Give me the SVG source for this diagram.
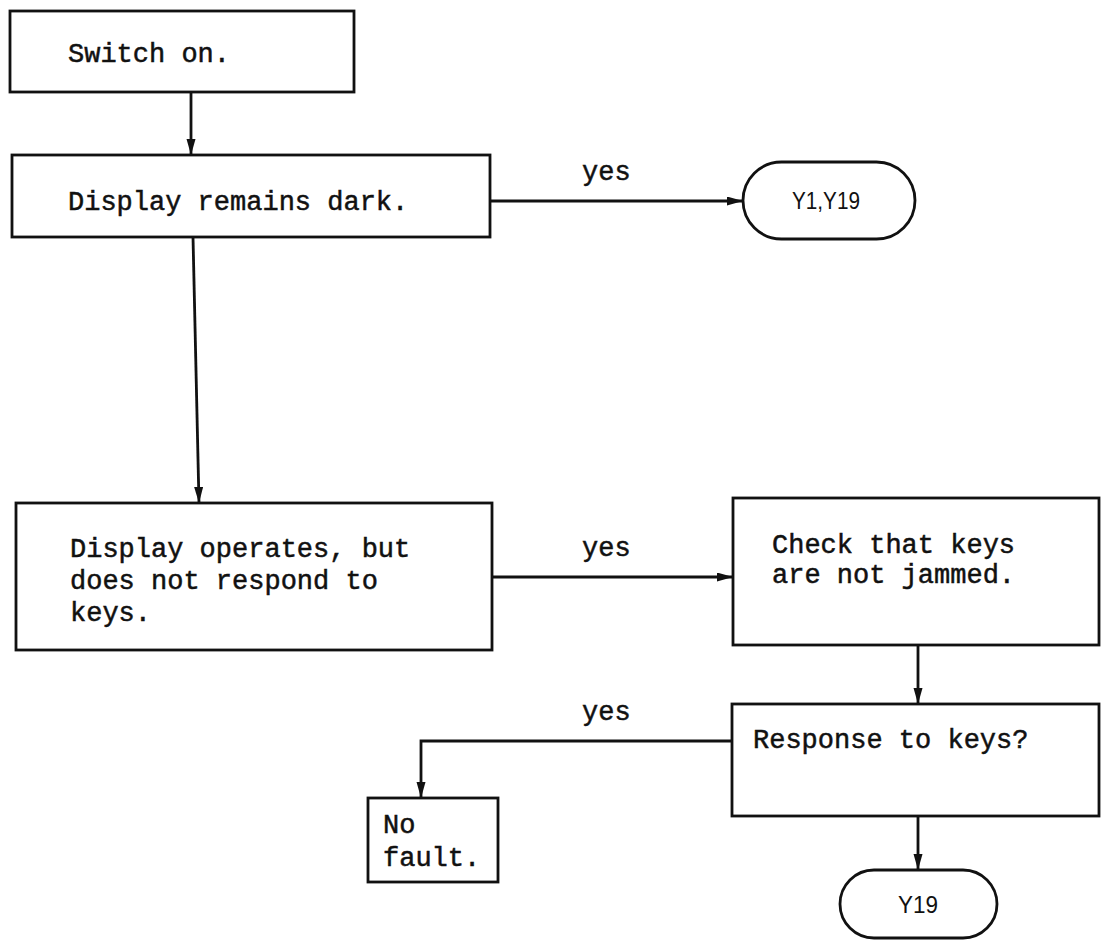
<svg xmlns="http://www.w3.org/2000/svg" width="1102" height="941" viewBox="0 0 1102 941">
<style>
.box{fill:#fff;stroke:#111;stroke-width:2.8}
.t{font-family:"Liberation Mono","DejaVu Sans Mono",monospace;font-size:27px;fill:#111;stroke:#111;stroke-width:0.5}
.term{font-family:"Liberation Sans","DejaVu Sans",sans-serif;font-size:23px;fill:#111}
.c{fill:none;stroke:#111;stroke-width:2.8}
</style>
<defs>
<marker id="ah" markerUnits="userSpaceOnUse" markerWidth="18" markerHeight="12" refX="16" refY="4.5" orient="auto">
<path d="M0,0 L16,4.5 L0,9 Z" fill="#111"/>
</marker>
</defs>
<rect width="1102" height="941" fill="#fff"/>
<g id="connectors">
<line class="c" x1="191" y1="92" x2="191" y2="155" marker-end="url(#ah)"/>
<line class="c" x1="490" y1="201" x2="743" y2="201" marker-end="url(#ah)"/>
<text class="t" x="582" y="180">yes</text>
<line class="c" x1="193" y1="237" x2="199" y2="503" marker-end="url(#ah)"/>
<line class="c" x1="492" y1="577" x2="733" y2="577" marker-end="url(#ah)"/>
<text class="t" x="582" y="556">yes</text>
<line class="c" x1="918" y1="645" x2="918" y2="704" marker-end="url(#ah)"/>
<polyline class="c" points="732,741 421,741 421,798" marker-end="url(#ah)"/>
<text class="t" x="582" y="720">yes</text>
<line class="c" x1="918" y1="816" x2="918" y2="870" marker-end="url(#ah)"/>
</g>
<g id="n1">
<rect class="box" x="10" y="11" width="344" height="81"/>
<text class="t" x="68" y="62">Switch on.</text>
</g>
<g id="n2">
<rect class="box" x="12" y="155" width="478" height="82"/>
<text class="t" x="68" y="210">Display remains dark.</text>
</g>
<g id="n3">
<rect class="box" x="743" y="162" width="172" height="77" rx="38.5"/>
<text class="term" x="826" y="209" text-anchor="middle" textLength="68" lengthAdjust="spacingAndGlyphs">Y1,Y19</text>
</g>
<g id="n4">
<rect class="box" x="16" y="503" width="476" height="147"/>
<text class="t" x="70" y="557">Display operates, but</text>
<text class="t" x="70" y="589">does not respond to</text>
<text class="t" x="70" y="621">keys.</text>
</g>
<g id="n5">
<rect class="box" x="733" y="498" width="366" height="147"/>
<text class="t" x="772" y="553">Check that keys</text>
<text class="t" x="772" y="583">are not jammed.</text>
</g>
<g id="n6">
<rect class="box" x="732" y="704" width="367" height="112"/>
<text class="t" x="753" y="748">Response to keys?</text>
</g>
<g id="n7">
<rect class="box" x="368" y="798" width="130" height="84"/>
<text class="t" x="383" y="833">No</text>
<text class="t" x="383" y="866">fault.</text>
</g>
<g id="n8">
<rect class="box" x="840" y="870" width="157" height="68" rx="34"/>
<text class="term" x="918" y="913" text-anchor="middle" textLength="40" lengthAdjust="spacingAndGlyphs">Y19</text>
</g>
</svg>
